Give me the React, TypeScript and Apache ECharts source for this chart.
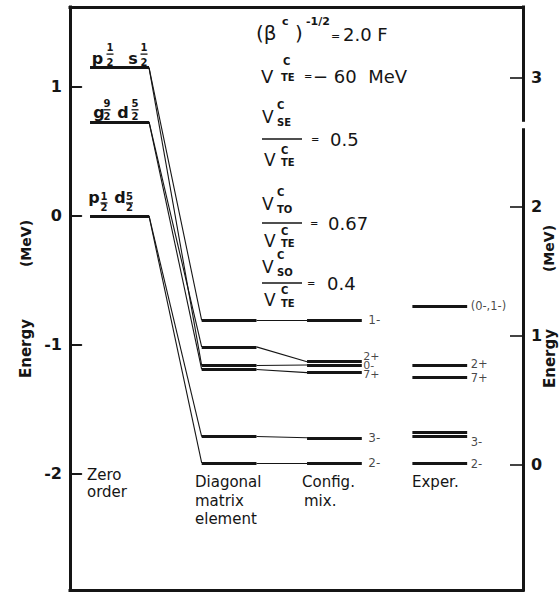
import { useEffect, useRef } from "react";
import * as echarts from "echarts";

const INK = "#151515";
const FONT = "DejaVu Sans, sans-serif";

// Zero-order configurations: orbital pairs and their unperturbed energies (MeV)
const zeroOrderOrbitals = [
  [["p", "1", "2"], ["s", "1", "2"]],
  [["g", "9", "2"], ["d", "5", "2"]],
  [["p", "1", "2"], ["d", "5", "2"]],
];
const zeroOrderEnergy = [1.15, 0.73, 0.0];

// Calculated states: spin-parity, parent configuration, energies (MeV)
const stateSpins = ["1-", "2+", "0-", "7+", "3-", "2-"];
const stateParent = [0, 1, 0, 1, 2, 2];
const diagonalEnergy = [-0.81, -1.015, -1.16, -1.19, -1.71, -1.915];
const configMixEnergy = [-0.81, -1.13, -1.155, -1.215, -1.72, -1.915];

// Experimental levels (MeV, left scale)
const experSpins = ["(0-,1-)", "2+", "7+", "", "3-", "2-"];
const experEnergy = [-0.7, -1.155, -1.25, -1.68, -1.71, -1.92];

// Axis ticks
const leftTicks = [-2, -1, 0, 1];
const rightTicks = [0, 1, 2, 3];
const rightOffset = 1.93; // right scale is measured from the 2- ground state
const rightAxisBreak = [2.61, 2.66];

// Column extents along the (hidden) horizontal axis
const COL = {
  zero: [1.19, 1.75],
  diag: [2.25, 2.77],
  mix: [3.25, 3.77],
  exper: [4.25, 4.77],
};
const X_MIN = 1;
const X_MAX = 5.3;
const Y_MIN = -2.9;
const Y_MAX = 1.62;
const LEFT_TICK_LEN = 0.115; // in horizontal-axis units (about 12 px)

// Label nudges (px) and sizes for the crowded level labels
const mixLabelNudge = [[1, 0], [-4, -5], [-4, 1], [-4, 1.5], [1, 0], [1, 0]];
const mixLabelSize = [12, 11, 11, 11, 12, 12];
const experLabelNudge = [[0, 0], [0, -1], [0, 0.5], [0, 0], [0, 5], [0, 0]];

// Placement of the orbital labels relative to the left end of each level
const zeroLabelLayout = [
  { letterDx: [7.5, 43], fracDx: [20, 54], letterDy: -9, numDy: -20, barDy: -13.5, denDy: -5.5 },
  { letterDx: [9, 33], fracDx: [17, 45], letterDy: -9.5, numDy: -18, barDy: -12, denDy: -5 },
  { letterDx: [4, 30], fracDx: [14, 39.5], letterDy: -18, numDy: -19.5, barDy: -13, denDy: -8 },
];

function txt(text: string, x: number, y: number, size: number, bold = false, align = "left") {
  return {
    type: "text",
    x,
    y,
    z: 10,
    silent: true,
    style: {
      text,
      fontSize: size,
      fontWeight: bold ? "bold" : "normal",
      fontFamily: FONT,
      fill: INK,
      align,
      verticalAlign: "middle",
    },
  };
}

function hline(x1: number, x2: number, y: number, w = 1.4) {
  return {
    type: "line",
    z: 10,
    silent: true,
    shape: { x1, y1: y, x2, y2: y },
    style: { stroke: INK, lineWidth: w },
  };
}

function annotations(): any[] {
  const g: any[] = [];
  // (beta^c)^(-1/2) = 2.0 F
  g.push(txt("(β", 256, 33, 20));
  g.push(txt("c", 282, 21, 11, true));
  g.push(txt(")", 295, 33, 20));
  g.push(txt("-1/2", 306, 21, 11, true));
  g.push(txt("=", 331, 36, 11));
  g.push(txt("2.0 F", 343, 34, 18));
  // V_TE = -60 MeV
  g.push(txt("V", 261, 76, 18));
  g.push(txt("C", 283, 61.5, 10, true));
  g.push(txt("TE", 281, 77, 10, true));
  g.push(txt("=", 304, 76, 10));
  g.push(txt("− 60  MeV", 313, 76, 18));
  // ratios
  const ratio = (sub: string, value: string, top: number, bar: number, bottom: number, eqX: number, valX: number) => {
    g.push(txt("V", 262, top, 17));
    g.push(txt("C", 277, top - 11.5, 10, true));
    g.push(txt(sub, 277, top + 6, 10, true));
    g.push(hline(262, 302, bar, 1.4));
    g.push(txt("=", eqX, bar, 10));
    g.push(txt(value, valX, bar, 18));
    g.push(txt("V", 264, bottom, 17));
    g.push(txt("C", 281, bottom - 9.5, 10, true));
    g.push(txt("TE", 281, bottom + 3, 10, true));
  };
  ratio("SE", "0.5", 116.5, 139, 159.5, 311, 330);
  ratio("TO", "0.67", 203.5, 223, 240.5, 310, 328);
  ratio("SO", "0.4", 266.5, 283, 300, 307, 327);

  // column titles
  g.push(txt("Zero", 87, 475, 15));
  g.push(txt("order", 87, 492, 15));
  g.push(txt("Diagonal", 195, 482, 15));
  g.push(txt("matrix", 195, 501, 15));
  g.push(txt("element", 195, 519, 15));
  g.push(txt("Config.", 302, 482, 15));
  g.push(txt("mix.", 304, 501, 15));
  g.push(txt("Exper.", 412, 482, 15));

  // axis names
  const axisName = (text: string, x: number, y: number, size: number) => ({
    type: "text",
    x,
    y,
    rotation: Math.PI / 2,
    z: 10,
    silent: true,
    style: {
      text,
      fontSize: size,
      fontWeight: "bold",
      fontFamily: FONT,
      fill: INK,
      align: "center",
      verticalAlign: "middle",
    },
  });
  g.push(axisName("(MeV)", 26, 243.5, 14));
  g.push(axisName("Energy", 26, 348.5, 15));
  g.push(axisName("(MeV)", 549, 248.5, 14));
  g.push(axisName("Energy", 550, 358.5, 15));
  return g;
}

export default function App() {
  const ref = useRef<HTMLDivElement>(null);

  useEffect(() => {
    if (!ref.current) return;
    const chart = echarts.init(ref.current, null, { renderer: "svg" });

    const thick: any[] = [];
    const thin: any[] = [];
    zeroOrderEnergy.forEach((e) => thick.push({ coords: [[COL.zero[0], e], [COL.zero[1], e]] }));
    stateSpins.forEach((_, i) => {
      const d = diagonalEnergy[i];
      const m = configMixEnergy[i];
      thin.push({ coords: [[COL.zero[1], zeroOrderEnergy[stateParent[i]]], [COL.diag[0], d]] });
      thick.push({ coords: [[COL.diag[0], d], [COL.diag[1], d]] });
      thin.push({ coords: [[COL.diag[1], d], [COL.mix[0], m]] });
      thick.push({ coords: [[COL.mix[0], m], [COL.mix[1], m]] });
    });
    experEnergy.forEach((e) => thick.push({ coords: [[COL.exper[0], e], [COL.exper[1], e]] }));
    const leftTickMarks = leftTicks.map((v) => ({ coords: [[X_MIN, v], [X_MIN + LEFT_TICK_LEN, v]] }));

    const labelStyle = {
      show: true,
      position: "right",
      formatter: "{b}",
      fontSize: 12,
      fontFamily: FONT,
      color: INK,
    };

    const axisCommon = (ticks: number[], tickLen: number) => ({
      type: "value",
      axisLine: { show: true, lineStyle: { color: INK, width: 3, cap: "square" } },
      splitLine: { show: false },
      axisTick: {
        show: true,
        inside: true,
        length: tickLen,
        customValues: ticks,
        lineStyle: { color: INK, width: 1.6 },
      },
      axisLabel: {
        customValues: ticks,
        margin: 8,
        fontSize: 16,
        fontWeight: "bold",
        fontFamily: FONT,
        color: INK,
        formatter: (v: number) => String(v),
      },
    });

    const bareX = (position: string) => ({
      type: "value",
      min: X_MIN,
      max: X_MAX,
      position,
      axisLine: { show: true, onZero: false, lineStyle: { color: INK, width: 3, cap: "square" } },
      axisTick: { show: false },
      axisLabel: { show: false },
      splitLine: { show: false },
    });

    const option: any = {
      animation: false,
      backgroundColor: "#ffffff",
      grid: { left: 70, right: 36, top: 7, bottom: 3 },
      xAxis: [bareX("bottom"), bareX("top")],
      yAxis: [
        { ...axisCommon(leftTicks, 11), min: Y_MIN, max: Y_MAX, position: "left" },
        {
          ...axisCommon(rightTicks, 13),
          min: Y_MIN + rightOffset,
          max: Y_MAX + rightOffset,
          position: "right",
        },
      ],
      series: [
        {
          type: "lines",
          coordinateSystem: "cartesian2d",
          xAxisIndex: 0,
          yAxisIndex: 0,
          silent: true,
          z: 3,
          lineStyle: { color: INK, width: 1.1, opacity: 1, curveness: 0 },
          data: thin,
        },
        {
          type: "lines",
          coordinateSystem: "cartesian2d",
          xAxisIndex: 0,
          yAxisIndex: 0,
          silent: true,
          z: 4,
          lineStyle: { color: INK, width: 2.8, opacity: 1, curveness: 0 },
          data: thick,
        },
        {
          type: "lines",
          coordinateSystem: "cartesian2d",
          xAxisIndex: 0,
          yAxisIndex: 0,
          silent: true,
          z: 6,
          lineStyle: { color: INK, width: 1.8, opacity: 1, curveness: 0 },
          data: leftTickMarks,
        },
        {
          type: "scatter",
          xAxisIndex: 0,
          yAxisIndex: 0,
          silent: true,
          symbolSize: 1,
          itemStyle: { color: "transparent" },
          label: { ...labelStyle, distance: 5 },
          data: stateSpins.map((s, i) => ({
            name: s,
            value: [COL.mix[1], configMixEnergy[i]],
            label: { offset: mixLabelNudge[i], fontSize: mixLabelSize[i] },
          })),
        },
        {
          type: "scatter",
          xAxisIndex: 0,
          yAxisIndex: 0,
          silent: true,
          symbolSize: 1,
          itemStyle: { color: "transparent" },
          label: { ...labelStyle, distance: 3, fontSize: 11.5 },
          data: experSpins
            .map((s, i) => ({
              name: s,
              value: [COL.exper[1], experEnergy[i]],
              label: { offset: experLabelNudge[i] },
            }))
            .filter((d) => d.name !== ""),
        },
      ],
    };
    chart.setOption(option);

    const graphic: any[] = annotations();

    // Orbital labels for the zero-order levels, anchored to each level's left end
    zeroOrderOrbitals.forEach((pair, r) => {
      const [bx, by] = chart.convertToPixel({ xAxisIndex: 0, yAxisIndex: 0 }, [
        COL.zero[0],
        zeroOrderEnergy[r],
      ]) as number[];
      const L = zeroLabelLayout[r];
      pair.forEach(([letter, num, den], k) => {
        const fx = bx + L.fracDx[k];
        graphic.push(
          txt(letter, bx + L.letterDx[k], by + L.letterDy, 16, true, "center"),
          txt(num, fx, by + L.numDy, 10, true, "center"),
          txt(den, fx, by + L.denDy, 10, true, "center"),
          hline(fx - 3.5, fx + 3.5, by + L.barDy, 1.3)
        );
      });
    });

    // Break in the right-hand axis line
    const [, yb1] = chart.convertToPixel({ xAxisIndex: 0, yAxisIndex: 1 }, [X_MIN, rightAxisBreak[1]]) as number[];
    const [, yb2] = chart.convertToPixel({ xAxisIndex: 0, yAxisIndex: 1 }, [X_MIN, rightAxisBreak[0]]) as number[];
    graphic.push({
      type: "rect",
      z: 20,
      silent: true,
      shape: { x: 518, y: yb1, width: 10, height: yb2 - yb1 },
      style: { fill: "#ffffff" },
    });

    chart.setOption({ graphic });

    return () => chart.dispose();
  }, []);

  return (
    <div
      ref={ref}
      style={{
        position: "absolute",
        left: 0,
        top: 0,
        width: 559,
        height: 593,
        background: "#ffffff",
      }}
    />
  );
}
